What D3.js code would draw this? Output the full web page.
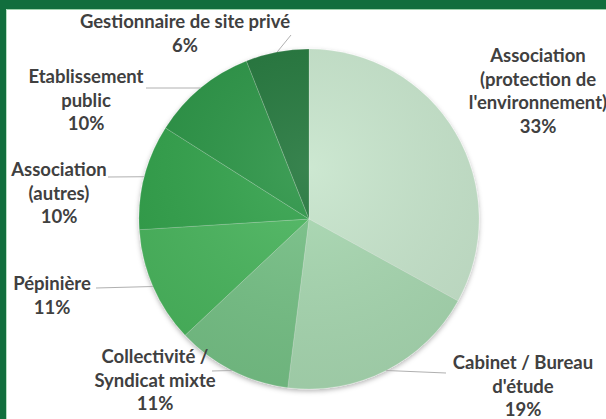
<!DOCTYPE html>
<html>
<head>
<meta charset="utf-8">
<script src="https://cdn.jsdelivr.net/npm/d3@7"></script>
<style>
  body { margin: 0; background: #fff; }
  svg { display: block; }
</style>
</head>
<body>
<svg id="pie-chart" width="606" height="419"></svg>
<script>
const categories = [
  "Association (protection de l'environnement)",
  "Cabinet / Bureau d'étude",
  "Collectivité / Syndicat mixte",
  "Pépinière",
  "Association (autres)",
  "Etablissement public",
  "Gestionnaire de site privé"
];
const values = [33, 19, 11, 11, 10, 10, 6];
const labelLines = [
  ["Association", "(protection de", "l'environnement)"],
  ["Cabinet / Bureau", "d'étude"],
  ["Collectivité /", "Syndicat mixte"],
  ["Pépinière"],
  ["Association", "(autres)"],
  ["Etablissement", "public"],
  ["Gestionnaire de site privé"]
];
const colors = ["#c7e5cc", "#a8d8b1", "#76c186", "#4ab55d", "#30a24b", "#2b9445", "#22763a"];

(function () {
  const svg = d3.select("#pie-chart");
  const width = +svg.attr("width");
  const height = +svg.attr("height");
  const cx = 309;
  const cy = 219;
  const radius = 170;
  const lineHeight = 23.5;

  // label anchor (centre x, first line y) and leader end point, per slice
  const layout = [
    { x: 538, y: 55, leader: null },
    { x: 523, y: 362, leader: [[446, 373]] },
    { x: 155, y: 356, leader: [[212, 371]] },
    { x: 52, y: 283, leader: [[96, 288]] },
    { x: 59, y: 169, leader: [[108, 177]] },
    { x: 86, y: 76, leader: [[192, 88], [146, 88]] },
    { x: 185, y: 21, leader: [[291, 35]] }
  ];

  const defs = svg.append("defs");
  const shadow = defs.append("filter").attr("id", "shadow")
    .attr("x", "-10%").attr("y", "-10%").attr("width", "120%").attr("height", "120%");
  shadow.append("feDropShadow")
    .attr("dx", 0).attr("dy", 2).attr("stdDeviation", 2.5)
    .attr("flood-color", "#000").attr("flood-opacity", 0.3);

  const shade = defs.append("radialGradient").attr("id", "shade")
    .attr("gradientUnits", "userSpaceOnUse")
    .attr("cx", cx).attr("cy", cy - radius * 0.3).attr("r", radius * 1.3);
  shade.append("stop").attr("offset", "0%").attr("stop-color", "#fff").attr("stop-opacity", 0.1);
  shade.append("stop").attr("offset", "100%").attr("stop-color", "#000").attr("stop-opacity", 0.07);

  // frame
  svg.append("rect").attr("width", width).attr("height", 9).attr("fill", "#116e3d");
  svg.append("rect").attr("width", 6).attr("height", height).attr("fill", "#116e3d");
  svg.append("rect").attr("x", 6).attr("y", 9).attr("width", width - 6).attr("height", 1)
    .attr("fill", "#9fd3ad");
  svg.append("rect").attr("x", 6).attr("y", 9).attr("width", 1).attr("height", height - 9)
    .attr("fill", "#b7dec2");

  const pie = d3.pie().sort(null).value((d) => d);
  const pieData = pie(values);
  const arc = d3.arc().innerRadius(0).outerRadius(radius);
  const edgeArc = d3.arc().innerRadius(radius).outerRadius(radius);

  const chart = svg.append("g").attr("transform", `translate(${cx}, ${cy})`);

  chart.append("g")
    .attr("filter", "url(#shadow)")
    .selectAll(null)
    .data(pieData)
    .enter()
    .append("path")
    .attr("d", (d) => arc(d))
    .attr("fill", (d) => colors[d.index])
    .attr("stroke", "rgba(255,255,255,0.18)")
    .style("stroke-width", "1px");

  svg.append("circle")
    .attr("cx", cx).attr("cy", cy).attr("r", radius)
    .attr("fill", "url(#shade)");

  // leader lines
  const line = d3.line();
  svg.append("g")
    .selectAll(null)
    .data(pieData.filter((d) => layout[d.index].leader))
    .enter()
    .append("path")
    .attr("d", (d) => {
      const c = edgeArc.centroid(d);
      return line([[c[0] + cx, c[1] + cy]].concat(layout[d.index].leader));
    })
    .attr("fill", "none")
    .attr("stroke", "#b0b0b0")
    .style("stroke-width", "1px");

  // labels
  const labels = svg.append("g")
    .selectAll(null)
    .data(pieData)
    .enter()
    .append("text")
    .attr("text-anchor", "middle")
    .style("font-family", "Lato, sans-serif")
    .style("font-weight", "700")
    .style("font-size", "18.5px")
    .attr("fill", "#404040");

  labels.each(function (d) {
    const t = d3.select(this);
    const pos = layout[d.index];
    labelLines[d.index].concat([`${d.data}%`]).forEach((s, i) => {
      t.append("tspan")
        .attr("x", pos.x)
        .attr("y", pos.y + i * lineHeight)
        .attr("dominant-baseline", "central")
        .text(s);
    });
  });
})();
</script>
</body>
</html>
